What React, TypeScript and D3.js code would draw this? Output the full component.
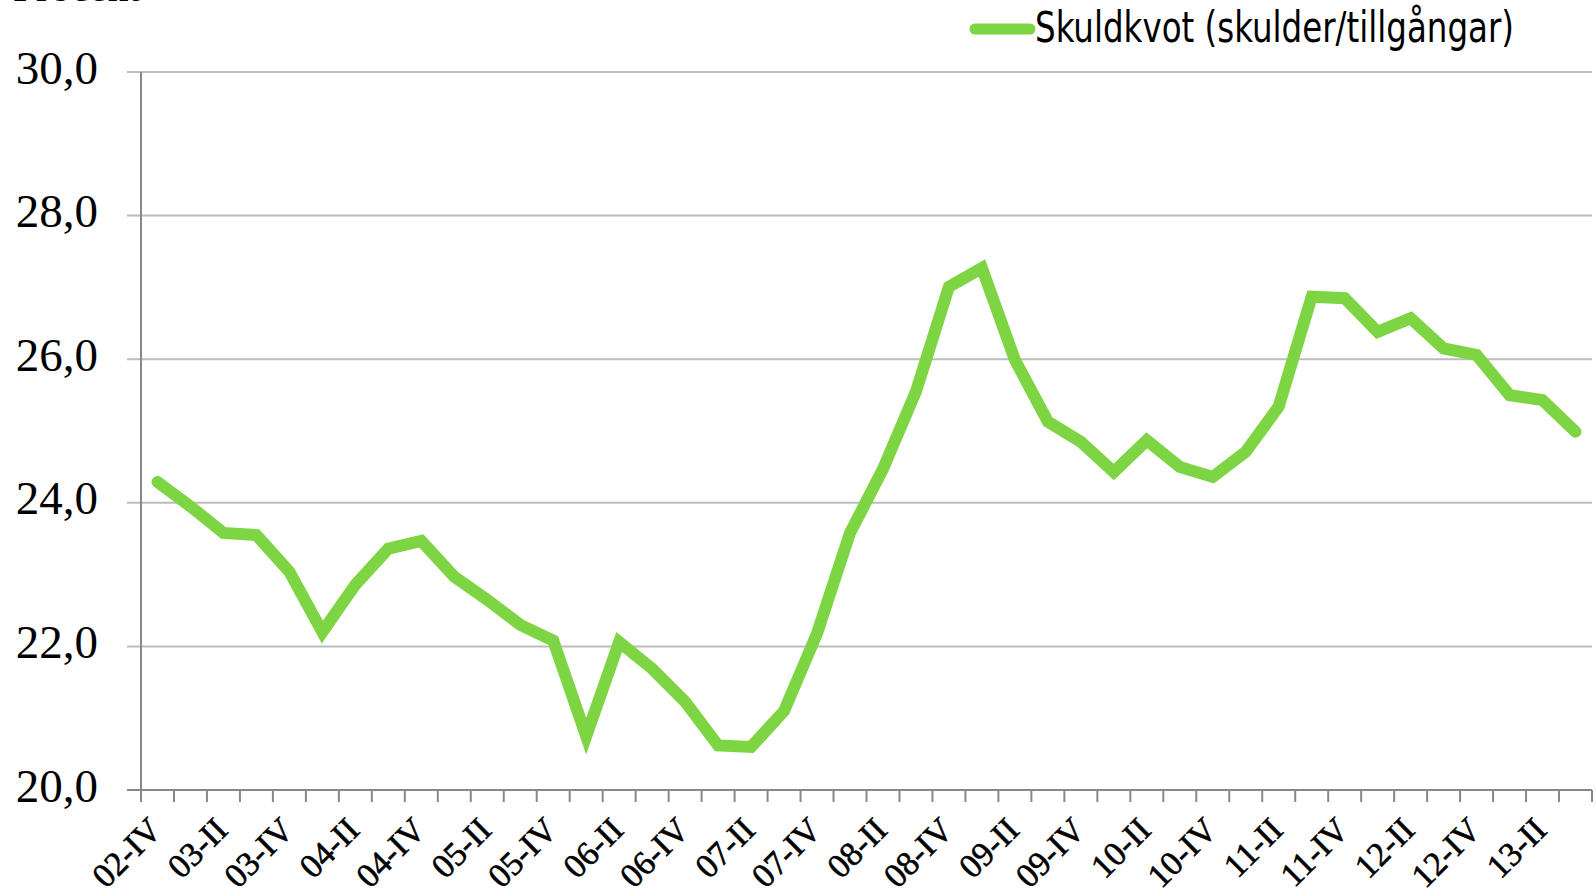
import React from "react";
import * as d3 from "d3";

const quarters: string[] = [
  "02-IV",
  "03-I", "03-II", "03-III", "03-IV",
  "04-I", "04-II", "04-III", "04-IV",
  "05-I", "05-II", "05-III", "05-IV",
  "06-I", "06-II", "06-III", "06-IV",
  "07-I", "07-II", "07-III", "07-IV",
  "08-I", "08-II", "08-III", "08-IV",
  "09-I", "09-II", "09-III", "09-IV",
  "10-I", "10-II", "10-III", "10-IV",
  "11-I", "11-II", "11-III", "11-IV",
  "12-I", "12-II", "12-III", "12-IV",
  "13-I", "13-II", "13-III",
];

const skuldkvot: number[] = [
  24.29, 23.95, 23.58, 23.55, 23.04, 22.2, 22.86, 23.36, 23.47, 22.97,
  22.65, 22.3, 22.08, 20.75, 22.06, 21.69, 21.23, 20.62, 20.6, 21.1,
  22.18, 23.58, 24.47, 25.55, 27.01, 27.27, 25.99, 25.13, 24.85, 24.43,
  24.87, 24.5, 24.36, 24.71, 25.34, 26.87, 26.85, 26.38, 26.57, 26.15,
  26.06, 25.5, 25.43, 24.99,
];

const yTicks: number[] = [20, 22, 24, 26, 28, 30];
const seriesName = "Skuldkvot (skulder/tillgångar)";
const unitLabel = "Procent";

const W = 1595;
const H = 891;
const left = 141;
const right = 1592;
const top = 72;
const bottom = 790;
const green = "#7dd543";
const serif = "'Liberation Serif', 'DejaVu Serif', serif";
const narrow = "'Liberation Sans Narrow', 'DejaVu Sans Condensed', 'Roboto', sans-serif";

export default function App() {
  const x = d3.scaleBand<string>().domain(quarters).range([left, right]).padding(0);
  const y = d3.scaleLinear().domain([20, 30]).range([bottom, top]);
  const cx = (q: string) => (x(q) as number) + x.bandwidth() / 2;

  const line = d3
    .line<number>()
    .x((_, i) => cx(quarters[i]))
    .y((d) => y(d));

  const boundaries = d3.range(quarters.length + 1).map((i) => left + i * x.bandwidth());

  return (
    <svg
      width={W}
      height={H}
      style={{ position: "absolute", left: 0, top: 0, background: "#fff" }}
    >
      <rect x={0} y={0} width={W} height={H} fill="#fff" />
      {/* unit label (cut off at top) */}
      <text x={13} y={1} fontFamily={serif} fontSize={40} textLength={127} lengthAdjust="spacingAndGlyphs" fill="#000">
        {unitLabel}
      </text>

      {/* gridlines */}
      {yTicks.map((t) => (
        <line
          key={t}
          x1={127}
          x2={right}
          y1={y(t)}
          y2={y(t)}
          stroke={t === 20 ? "#888" : "#bcbcbc"}
          strokeWidth={2}
        />
      ))}
      {/* y axis */}
      <line x1={left} x2={left} y1={top} y2={bottom + 12} stroke="#888" strokeWidth={2} />
      {/* x ticks */}
      {boundaries.map((bx, i) => (
        <line key={i} x1={bx} x2={bx} y1={bottom} y2={bottom + 12} stroke="#888" strokeWidth={2} />
      ))}

      {/* y labels */}
      {yTicks.map((t) => (
        <text
          key={t}
          x={98}
          y={y(t) + 11.5}
          textAnchor="end"
          fontFamily={serif}
          fontSize={47}
          fill="#000"
        >
          {t.toFixed(1).replace(".", ",")}
        </text>
      ))}

      {/* x labels */}
      {quarters.map((q, i) =>
        i % 2 === 0 ? (
          <text
            key={q}
            transform={`translate(${cx(q) + 6},${832}) rotate(-45)`}
            textAnchor="end"
            fontFamily={serif}
            fontSize={34}
            stroke="#000"
            strokeWidth={0.6}
            fill="#000"
          >
            {q}
          </text>
        ) : null
      )}

      {/* series line */}
      <path
        d={line(skuldkvot) || ""}
        fill="none"
        stroke={green}
        strokeWidth={12}
        strokeLinecap="round"
        strokeLinejoin="miter"
      />

      {/* legend */}
      <line x1={975} x2={1030} y1={29} y2={29} stroke={green} strokeWidth={11} strokeLinecap="round" />
      <text
        x={1035}
        y={42}
        fontFamily={narrow}
        fontSize={43}
        textLength={479}
        lengthAdjust="spacingAndGlyphs"
        fill="#000"
      >
        {seriesName}
      </text>
    </svg>
  );
}
